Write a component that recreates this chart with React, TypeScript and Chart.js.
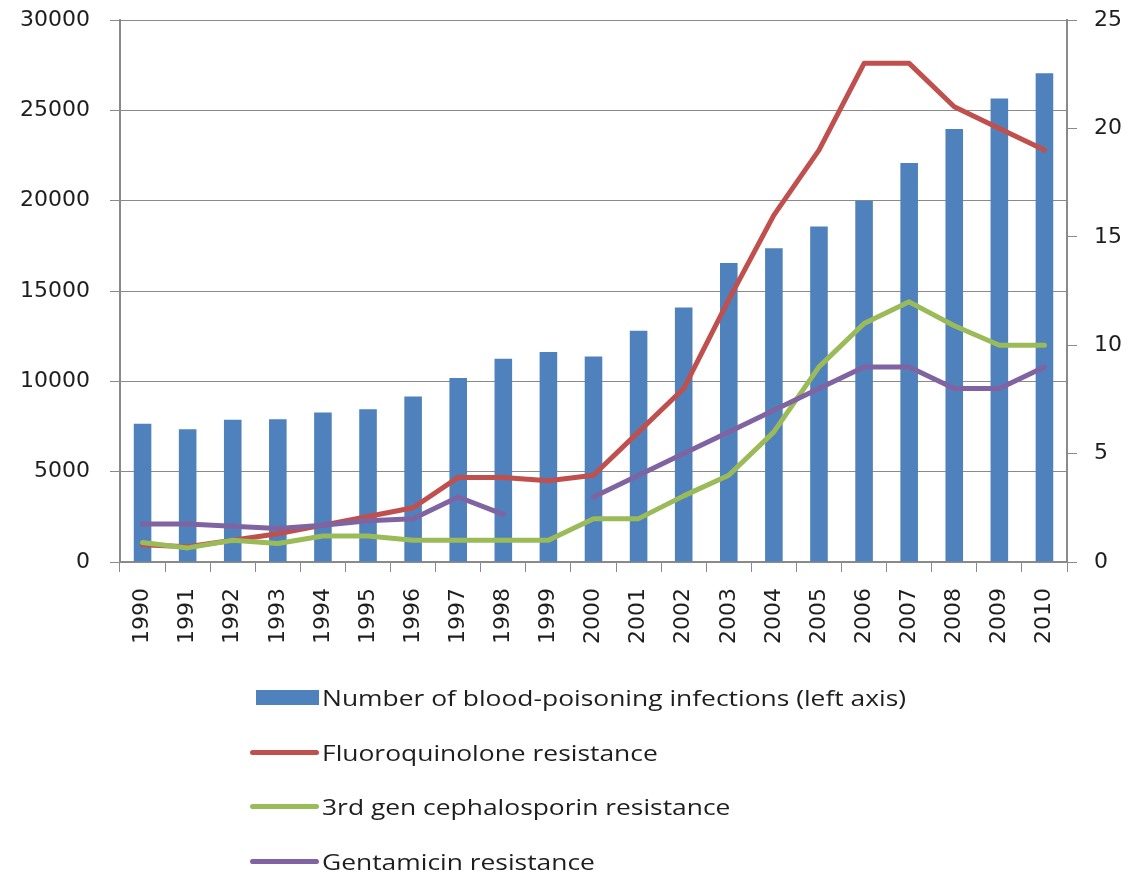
import React, { useEffect, useRef } from "react";
import { Chart, registerables } from "chart.js";

Chart.register(...registerables);

const years = ["1990","1991","1992","1993","1994","1995","1996","1997","1998","1999","2000","2001","2002","2003","2004","2005","2006","2007","2008","2009","2010"];
const infections = [7650, 7350, 7870, 7900, 8270, 8460, 9160, 10180, 11250, 11620, 11380, 12800, 14080, 16550, 17370, 18570, 20000, 22080, 23970, 25650, 27050];
const fluoroquinolone = [0.8, 0.7, 1.0, 1.3, 1.7, 2.1, 2.5, 3.9, 3.9, 3.75, 4.0, 6.0, 8.0, 12.1, 16.0, 19.0, 23.0, 23.0, 21.0, 20.0, 19.0];
const cephalosporin = [0.9, 0.65, 1.0, 0.85, 1.2, 1.2, 1.0, 1.0, 1.0, 1.0, 2.0, 2.0, 3.05, 4.0, 6.0, 9.0, 11.0, 12.0, 10.9, 10.0, 10.0];
const gentamicin: (number | null)[] = [1.75, 1.75, 1.65, 1.55, 1.7, 1.9, 2.0, 3.0, 2.2, null, 3.0, 4.0, 5.0, 6.0, 7.0, 8.0, 9.0, 9.0, 8.0, 8.0, 9.0];

const legendItems = [
  { label: "Number of blood-poisoning infections (left axis)", color: "#4F81BD", kind: "bar" },
  { label: "Fluoroquinolone resistance", color: "#C0504D", kind: "line" },
  { label: "3rd gen cephalosporin resistance", color: "#9BBB59", kind: "line" },
  { label: "Gentamicin resistance", color: "#8064A2", kind: "line" },
];

export default function App() {
  const ref = useRef<HTMLCanvasElement | null>(null);
  useEffect(() => {
    if (!ref.current) return;
    const tickFont = { family: "'DejaVu Sans', Verdana, sans-serif", size: 22 };
    const gray = "#8a8a8a";
    const lineCommon = {
      type: "line" as const,
      yAxisID: "y2",
      borderWidth: 5,
      pointRadius: 0,
      tension: 0,
      borderCapStyle: "round" as const,
      borderJoinStyle: "round" as const,
      spanGaps: false,
      fill: false,
    };
    const plain = (v: any) => String(v);
    const noPad = (s: any) => { s.paddingTop = 0; s.paddingBottom = 0; };
    const chart = new Chart(ref.current, {
      type: "bar",
      data: {
        labels: years,
        datasets: [
          { type: "bar", label: legendItems[0].label, data: infections, backgroundColor: "#4F81BD", yAxisID: "y", barPercentage: 0.39, categoryPercentage: 1, order: 10 },
          { ...lineCommon, label: legendItems[1].label, data: fluoroquinolone, borderColor: "#C0504D", backgroundColor: "#C0504D", order: 3 },
          { ...lineCommon, label: legendItems[2].label, data: cephalosporin, borderColor: "#9BBB59", backgroundColor: "#9BBB59", order: 2 },
          { ...lineCommon, label: legendItems[3].label, data: gentamicin, borderColor: "#8064A2", backgroundColor: "#8064A2", order: 1 },
        ] as any,
      },
      options: {
        animation: false,
        responsive: false,
        maintainAspectRatio: false,
        layout: { padding: { top: 20, bottom: 234, left: 0, right: 0 } },
        plugins: { legend: { display: false }, tooltip: { enabled: false } },
        scales: {
          x: {
            grid: { offset: true, drawOnChartArea: false, drawTicks: true, tickLength: 10, color: gray, lineWidth: 1 },
            border: { color: gray, width: 2 },
            ticks: { font: tickFont, color: "#1e1e1e", minRotation: 90, maxRotation: 90, padding: 16, autoSkip: false },
            afterFit: (s: any) => { s.height = 100; s.paddingLeft = 0; s.paddingRight = 0; },
          },
          y: {
            position: "left",
            min: 0, max: 30000,
            ticks: { stepSize: 5000, font: tickFont, color: "#1e1e1e", padding: 20, callback: plain },
            grid: { color: gray, lineWidth: 1, tickLength: 10, drawTicks: true },
            border: { color: gray, width: 2 },
            afterFit: (s: any) => { s.width = 120; noPad(s); },
          },
          y2: {
            position: "right",
            min: 0, max: 25,
            ticks: { stepSize: 5, font: tickFont, color: "#1e1e1e", padding: 17, callback: plain },
            grid: { drawOnChartArea: false, color: gray, lineWidth: 1, tickLength: 10 },
            border: { color: gray, width: 2 },
            afterFit: (s: any) => { s.width = 61; noPad(s); },
          },
        },
      },
    });
    return () => chart.destroy();
  }, []);

  const rowY = [697, 752, 806, 861];
  return (
    <div style={{ position: "fixed", left: 0, top: 0, width: 1128, height: 896, background: "#fff" }}>
      <canvas ref={ref} width={1128} height={896} style={{ position: "absolute", left: 0, top: 0 }} />
      {legendItems.map((it, i) => (
        <div key={it.label} style={{ position: "absolute", left: 0, top: rowY[i] - 16, height: 32, width: 1128 }}>
          {it.kind === "bar" ? (
            <div style={{ position: "absolute", left: 256, top: 9, width: 63, height: 15, background: it.color }} />
          ) : (
            <div style={{ position: "absolute", left: 250, top: 14, width: 69, height: 5, borderRadius: 3, background: it.color }} />
          )}
          <div style={{ position: "absolute", left: 322, top: 0, lineHeight: "32px", fontFamily: "'Open Sans', sans-serif", fontSize: 22, color: "#1e1e1e", whiteSpace: "nowrap", transform: "scaleX(1.2)", transformOrigin: "left center" }}>
            {it.label}
          </div>
        </div>
      ))}
    </div>
  );
}
